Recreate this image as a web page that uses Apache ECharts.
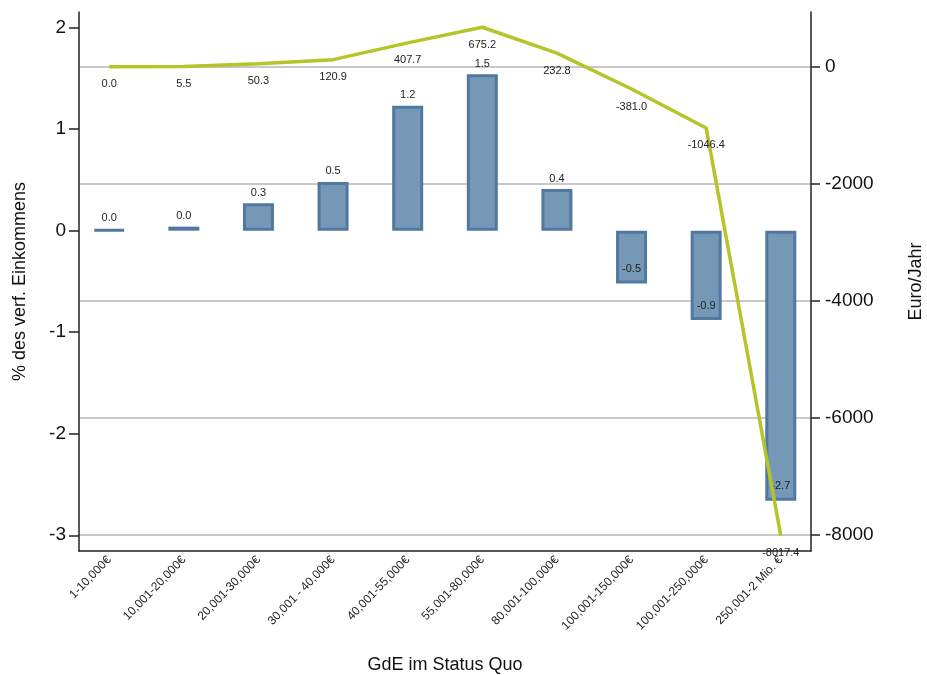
<!DOCTYPE html>
<html>
<head>
<meta charset="utf-8">
<script src="https://cdn.jsdelivr.net/npm/echarts@6/dist/echarts.min.js"></script>
<style>
html,body{margin:0;padding:0;background:#fff;}
#chart1{width:927px;height:675px;}
</style>
</head>
<body>
<div id="chart1"></div>
<script>
// Einkommensklassen
var categories=['1-10,000€','10,001-20,000€','20,001-30,000€','30,001 - 40,000€','40,001-55,000€','55,001-80,000€','80,001-100,000€','100,001-150,000€','100,001-250,000€','250,001-2 Mio. €'];
// % des verf. Einkommens (Balken)
var pctValues=[0.01,0.04,0.27,0.48,1.23,1.54,0.41,-0.52,-0.88,-2.66];
// Euro/Jahr (Linie)
var euroValues=[0.0,5.5,50.3,120.9,407.7,675.2,232.8,-381.0,-1046.4,-8017.4];
var leftTicks=[-3,-2,-1,0,1,2];
var rightTicks=[-8000,-6000,-4000,-2000,0];
var catIndex=[0,1,2,3,4,5,6,7,8,9];

var font='Liberation Sans';
var chart1=echarts.init(document.getElementById('chart1'));
option={
    animation:false,
    textStyle:{fontFamily:font},
    grid:{
        left:79,
        right:116,
        top:12,
        bottom:124,
        outerBoundsMode:'none',
        containLabel:false
    },
    xAxis:[
        {
            type:'value',
            min:-0.405,
            max:9.405,
            name:'GdE im Status Quo',
            nameLocation:'middle',
            nameGap:105,
            nameTextStyle:{color:'#111',fontSize:18,fontFamily:font},
            axisLine:{onZero:false,lineStyle:{color:'#222',width:1.5}},
            axisTick:{show:false},
            splitLine:{show:false},
            axisLabel:{
                customValues:catIndex,
                rotate:46,
                margin:7,
                color:'#222',
                fontSize:12,
                fontFamily:font,
                formatter:function(v){return categories[Math.round(v)];}
            }
        }
    ],
    yAxis:[
        {
            type:'value',
            position:'left',
            min:-3.155,
            max:2.154,
            name:'% des verf. Einkommens',
            nameLocation:'middle',
            nameGap:50,
            nameTextStyle:{color:'#111',fontSize:18,fontFamily:font},
            axisLine:{show:true,onZero:false,lineStyle:{color:'#222',width:1.5}},
            axisTick:{show:true,customValues:leftTicks,length:10,lineStyle:{color:'#222',width:1.5}},
            axisLabel:{customValues:leftTicks,color:'#111',fontSize:19,margin:13,fontFamily:font,
                formatter:function(v){return String(v);}},
            splitLine:{show:false}
        },
        {
            type:'value',
            position:'right',
            min:-8281,
            max:936,
            name:'Euro/Jahr',
            nameLocation:'middle',
            nameGap:96,
            nameTextStyle:{color:'#111',fontSize:18,fontFamily:font},
            axisLine:{show:true,onZero:false,lineStyle:{color:'#222',width:1.5}},
            axisTick:{show:true,customValues:rightTicks,length:9,lineStyle:{color:'#222',width:1.5}},
            axisLabel:{customValues:rightTicks,color:'#111',fontSize:19,margin:14,fontFamily:font,
                formatter:function(v){return String(v);}},
            splitLine:{show:true,lineStyle:{color:'#c8c8c8',width:1.8}}
        }
    ],
    series:[
        {
            name:'% des verf. Einkommens',
            type:'bar',
            yAxisIndex:0,
            barWidth:31,
            data:pctValues.map(function(v,i){
                var item={value:[i,v]};
                if(v<0){item.label={position:'insideBottom',distance:9};}
                return item;
            }),
            itemStyle:{
                color:'rgb(116,152,182)',
                borderColor:'rgb(80,120,160)',
                borderWidth:3
            },
            label:{
                show:true,
                position:'top',
                distance:5,
                color:'#222',
                fontSize:11,
                fontFamily:font,
                formatter:function(p){return p.value[1].toFixed(1);}
            }
        },
        {
            name:'Euro/Jahr',
            type:'line',
            yAxisIndex:1,
            symbol:'circle',
            symbolSize:0,
            showSymbol:true,
            data:euroValues.map(function(v,i){return [i,v];}),
            lineStyle:{color:'rgb(181,196,40)',width:3.5},
            itemStyle:{color:'rgb(181,196,40)'},
            label:{
                show:true,
                position:'bottom',
                distance:12,
                color:'#222',
                fontSize:11,
                fontFamily:font,
                formatter:function(p){return p.value[1].toFixed(1);}
            },
            z:3
        }
    ]
};
chart1.setOption(option);
</script>
</body>
</html>
